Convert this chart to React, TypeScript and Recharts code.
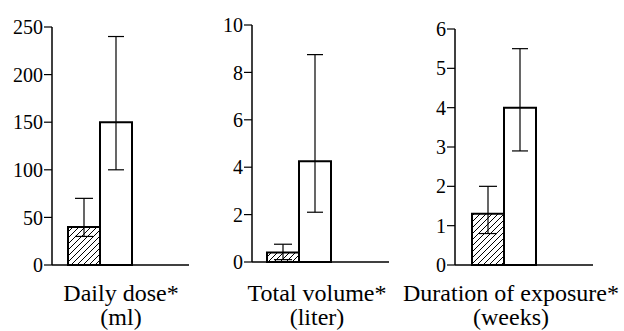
import { BarChart, Bar, XAxis, YAxis, ErrorBar, Label } from "recharts";

const FONT = "Liberation Serif";

// Daily dose (ml)
const doseTicks = [0, 50, 100, 150, 200, 250];
const doseValues = [40, 150];
const doseErrors = [
  [10, 30],
  [50, 90],
];

// Total volume (liter)
const volumeTicks = [0, 2, 4, 6, 8, 10];
const volumeValues = [0.4, 4.25];
const volumeErrors = [
  [0.3, 0.35],
  [2.15, 4.5],
];

// Duration of exposure (weeks)
const durationTicks = [0, 1, 2, 3, 4, 5, 6];
const durationValues = [1.3, 4.0];
const durationErrors = [
  [0.5, 0.7],
  [1.1, 1.5],
];

interface PanelProps {
  id: string;
  left: number;
  width: number;
  top: number;
  bottom: number;
  right: number;
  yWidth: number;
  ticks: number[];
  values: number[];
  errors: number[][];
  padRight: number;
  lines: string[];
  labelCx: number;
}

function Panel({
  id,
  left,
  width,
  top,
  bottom,
  right,
  yWidth,
  ticks,
  values,
  errors,
  padRight,
  lines,
  labelCx,
}: PanelProps) {
  const data = [
    { name: lines[0], a: values[0], b: values[1], aErr: errors[0], bErr: errors[1] },
  ];
  const renderLabel = () => (
    <text textAnchor="middle" fontFamily={FONT} fontSize={24} fill="#000">
      <tspan x={labelCx - left} y={301}>
        {lines[0]}
      </tspan>
      <tspan x={labelCx - left} y={325}>
        {lines[1]}
      </tspan>
    </text>
  );
  return (
    <div style={{ position: "absolute", left, top: 0 }}>
      <BarChart
        width={width}
        height={331}
        data={data}
        margin={{ top, right, left: 0, bottom: 0 }}
        barSize={32}
        barGap={0}
      >
        <defs>
          <pattern id={id} width={6} height={6} patternUnits="userSpaceOnUse">
            <rect width={6} height={6} fill="#fff" />
            <path
              d="M-1,1 l2,-2 M0,6 l6,-6 M5,7 l2,-2"
              stroke="#000"
              strokeWidth={1}
            />
          </pattern>
        </defs>
        <XAxis
          dataKey="name"
          tick={false}
          tickLine={false}
          axisLine={{ stroke: "#000", strokeWidth: 1.5 }}
          padding={{ left: 0, right: padRight }}
          height={331 - bottom}
        >
          <Label content={renderLabel} />
        </XAxis>
        <YAxis
          width={yWidth}
          domain={[ticks[0], ticks[ticks.length - 1]]}
          ticks={ticks}
          interval={0}
          tickSize={8}
          tickMargin={1}
          axisLine={{ stroke: "#000", strokeWidth: 1.5 }}
          tickLine={{ stroke: "#000", strokeWidth: 1.2 }}
          tick={{ fill: "#000", fontSize: 20, fontFamily: FONT }}
        />
        <Bar
          dataKey="a"
          fill={`url(#${id})`}
          stroke="#000"
          strokeWidth={2}
          isAnimationActive={false}
        >
          <ErrorBar dataKey="aErr" width={9} stroke="#000" strokeWidth={1.2} />
        </Bar>
        <Bar
          dataKey="b"
          fill="#fff"
          stroke="#000"
          strokeWidth={2}
          isAnimationActive={false}
        >
          <ErrorBar dataKey="bErr" width={8} stroke="#000" strokeWidth={1.2} />
        </Bar>
      </BarChart>
    </div>
  );
}

export default function App() {
  return (
    <div
      style={{
        position: "absolute",
        left: 0,
        top: 0,
        width: 624,
        height: 331,
        background: "#fff",
      }}
    >
      <Panel
        id="hatch1"
        left={0}
        width={200}
        top={27}
        bottom={265}
        right={11}
        yWidth={52}
        ticks={doseTicks}
        values={doseValues}
        errors={doseErrors}
        padRight={41}
        lines={["Daily dose*", "(ml)"]}
        labelCx={121}
      />
      <Panel
        id="hatch2"
        left={200}
        width={200}
        top={25}
        bottom={262}
        right={11}
        yWidth={52}
        ticks={volumeTicks}
        values={volumeValues}
        errors={volumeErrors}
        padRight={43}
        lines={["Total volume*", "(liter)"]}
        labelCx={317}
      />
      <Panel
        id="hatch3"
        left={400}
        width={224}
        top={29}
        bottom={265}
        right={31}
        yWidth={55}
        ticks={durationTicks}
        values={durationValues}
        errors={durationErrors}
        padRight={40}
        lines={["Duration of exposure*", "(weeks)"]}
        labelCx={511}
      />
    </div>
  );
}
